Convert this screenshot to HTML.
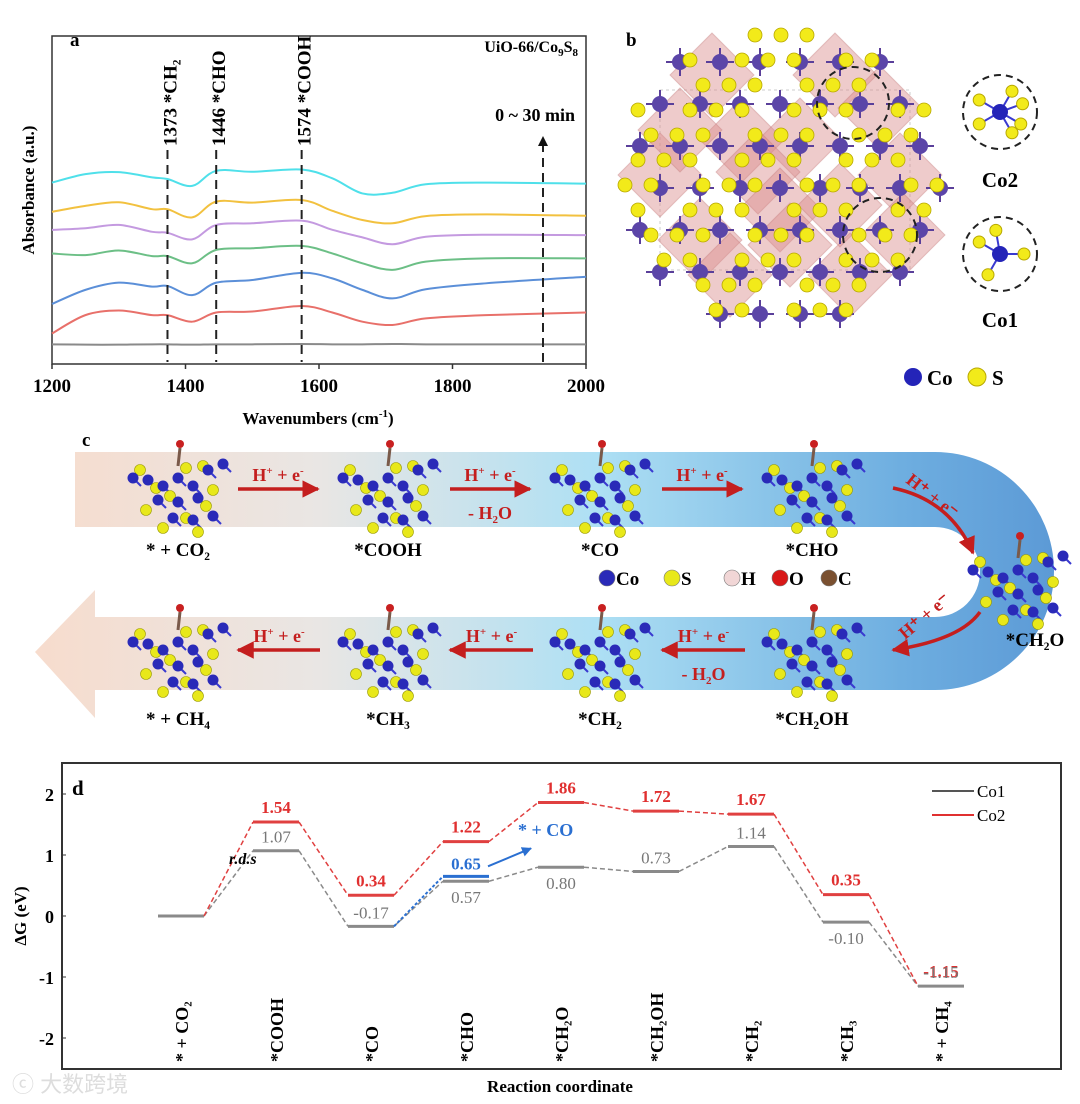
<!DOCTYPE html>
<html><head><meta charset="utf-8"><style>
html,body{margin:0;padding:0;background:#fff}
svg{display:block;font-family:"Liberation Serif",serif}
.b{font-weight:bold}
</style></head><body>
<svg id="fig" width="1080" height="1104" viewBox="0 0 1080 1104" xmlns="http://www.w3.org/2000/svg">
<defs>
<linearGradient id="band" x1="0" x2="1" y1="0" y2="0">
<stop offset="0" stop-color="#f7dccd"/><stop offset="0.28" stop-color="#e9e6e4"/><stop offset="0.55" stop-color="#aee0f4"/><stop offset="0.85" stop-color="#6eaee0"/><stop offset="1" stop-color="#5c9ad6"/></linearGradient>
<marker id="ar" viewBox="0 0 10 10" refX="9" refY="5" markerWidth="5" markerHeight="5" orient="auto"><path d="M0,0L10,5L0,10z" fill="#c41e1e"/></marker>
<marker id="ak" viewBox="0 0 10 10" refX="9" refY="5" markerWidth="5" markerHeight="5" orient="auto"><path d="M0,0L10,5L0,10z" fill="#111"/></marker>
<marker id="ab" viewBox="0 0 10 10" refX="9" refY="5" markerWidth="5" markerHeight="5" orient="auto"><path d="M0,0L10,5L0,10z" fill="#2a6fd1"/></marker>
</defs>
<g id="pa"></g>
<g id="pb"></g>
<g id="pc"></g>
<g id="pd"></g>
</svg>
<script>
// ---------- Panel a data ----------
const waveNumbers=[1200,1250,1300,1350,1373,1410,1446,1500,1574,1620,1665,1710,1760,1850,2000];
const spCyan=[55.3,57.9,58.5,56.9,56.4,54.3,58.9,58.6,59.3,56.6,52.0,52.2,54.8,55.3,55.0];
const spYellow=[46.4,48.2,49.3,47.2,47.2,44.7,49.5,49.2,50.0,46.7,43.9,42.9,45.1,45.6,45.2];
const spPurple=[40.9,41.4,42.4,40.3,40.0,38.0,42.4,42.9,43.7,40.9,38.6,36.5,38.8,39.4,39.3];
const spGreen=[33.7,33.2,34.6,32.9,32.9,30.7,34.8,35.3,36.0,33.7,30.7,28.7,31.2,32.2,32.2];
const spBlue=[18.3,22.6,24.8,23.6,23.8,21.0,24.8,25.6,27.8,26.1,22.6,20.0,22.8,24.6,26.6];
const spRed=[9.3,14.9,16.3,14.9,14.9,12.9,15.7,16.0,17.7,15.7,12.9,11.9,13.9,14.9,15.7];
const spGray=[6.0,5.9,5.9,6.0,6.0,5.9,6.0,6.0,6.1,6.0,6.0,6.1,6.0,6.0,6.0];
const xTicksA=[1200,1400,1600,1800,2000];
const peakPos=[1373,1446,1574];
const peakLbl=['1373  *CH\u2082','1446 *CHO','1574  *COOH'];
// ---------- Panel d data ----------
const steps=['* + CO\u2082','*COOH','*CO','*CHO','*CH\u2082O','*CH\u2082OH','*CH\u2082','*CH\u2083','* + CH\u2084'];
const co1G=[0,1.07,-0.17,0.57,0.80,0.73,1.14,-0.10,-1.15];
const co2G=[0,1.54,0.34,1.22,1.86,1.72,1.67,0.35,-1.15];
const co1LabelBelow=[0,0,0,1,1,0,0,1,0];
const coDesorb=0.65;
const yTicksD=[2,1,0,-1,-2];

const NS='http://www.w3.org/2000/svg';
function mk(p,tag,at,txt){const e=document.createElementNS(NS,tag);for(const k in at)e.setAttribute(k,at[k]);if(txt!==undefined)e.textContent=txt;p.appendChild(e);return e;}

// ===== Panel a =====
const pa=document.getElementById('pa');
const ax0=52,ax1=586,ay0=36,ay1=364;
const xA=v=>ax0+(v-1200)/800*(ax1-ax0);
const yA=v=>ay1-v*3.28;
let fr=mk(pa,'rect',{x:ax0,y:ay0,width:ax1-ax0,height:ay1-ay0,fill:'none',stroke:'#333','stroke-width':1.5});

xTicksA.forEach(t=>{const g=mk(pa,'g',{});

mk(g,'line',{x1:xA(t),x2:xA(t),y1:ay1,y2:ay1+5,stroke:'#333','stroke-width':1.5});
mk(g,'text',{x:xA(t),y:ay1+28,'text-anchor':'middle','font-size':19,class:'b'},t);});
function smooth(pts){let d='M'+pts[0][0]+','+pts[0][1];for(let i=0;i<pts.length-1;i++){const p0=pts[i-1]||pts[i],p1=pts[i],p2=pts[i+1],p3=pts[i+2]||p2;
d+=' C'+(p1[0]+(p2[0]-p0[0])/6)+','+(p1[1]+(p2[1]-p0[1])/6)+' '+(p2[0]-(p3[0]-p1[0])/6)+','+(p2[1]-(p3[1]-p1[1])/6)+' '+p2[0]+','+p2[1];}return d;}
[[spGray,'#8a8a8a','gray'],[spRed,'#e8706a','red'],[spBlue,'#5b8fd8','blue'],[spGreen,'#6cbf86','green'],[spPurple,'#c49ae0','purple'],[spYellow,'#f2c13f','yellow'],[spCyan,'#4fe0ea','cyan']].forEach(s=>{
const p=mk(pa,'path',{d:smooth(waveNumbers.map((w,i)=>[xA(w),yA(s[0][i])])),fill:'none',stroke:s[1],'stroke-width':2});
});
peakPos.forEach((w,i)=>{const g=mk(pa,'g',{});

mk(g,'line',{x1:xA(w),x2:xA(w),y1:150,y2:362,stroke:'#222','stroke-width':2,'stroke-dasharray':'9,6'});
mk(g,'text',{x:0,y:0,transform:'translate('+(xA(w)+9)+',146) rotate(-90)','font-size':19,class:'b'},peakLbl[i]);});
const ag=mk(pa,'g',{});
mk(ag,'line',{x1:543,x2:543,y1:362,y2:137,stroke:'#222','stroke-width':2,'stroke-dasharray':'9,6','marker-end':'url(#ak)'});
mk(ag,'text',{x:575,y:121,'text-anchor':'end','font-size':18,class:'b'},'0 ~ 30 min');
let t=mk(pa,'text',{x:70,y:46,'font-size':19,class:'b'},'a');
t=mk(pa,'text',{x:578,y:52,'text-anchor':'end','font-size':16,class:'b'});t.innerHTML='UiO-66/Co<tspan font-size="11" dy="4">9</tspan><tspan dy="-4">S</tspan><tspan font-size="11" dy="4">8</tspan>';

t=mk(pa,'text',{transform:'translate(34,190) rotate(-90)','text-anchor':'middle','font-size':17,class:'b'},'Absorbance (a.u.)');

t=mk(pa,'text',{x:318,y:424,'text-anchor':'middle','font-size':17,class:'b'});t.innerHTML='Wavenumbers (cm<tspan font-size="11" dy="-7">-1</tspan><tspan dy="7">)</tspan>';


// ===== Panel b =====
const pb=document.getElementById('pb');
t=mk(pb,'text',{x:626,y:46,'font-size':19,class:'b'},'b');
mk(pb,'rect',{x:660,y:90,width:250,height:180,fill:'none',stroke:'#ccc','stroke-dasharray':'3,3'});
const crys=mk(pb,'g',{});
const cen=[[712,75],[835,75],[660,175],[742,140],[800,140],[880,108],[758,172],[900,175],[700,240],[780,210],[840,205],[903,235],[730,275],[850,275],[680,130],[790,245]];
cen.forEach(c=>{mk(crys,'polygon',{points:(c[0])+','+(c[1]-42)+' '+(c[0]+42)+','+c[1]+' '+c[0]+','+(c[1]+42)+' '+(c[0]-42)+','+c[1],fill:'#d98c8c','fill-opacity':0.45,stroke:'#c47a7a','stroke-opacity':0.4});});
for(let r=0;r<7;r++)for(let c=0;c<8;c++){const x=640+c*40+(r%2)*20,y=62+r*42;if((x-780)*(x-780)/170/170+(y-180)*(y-180)/150/150>1)continue;
mk(crys,'line',{x1:x-14,y1:y,x2:x+14,y2:y,stroke:'#5a3f9a','stroke-width':2});mk(crys,'line',{x1:x,y1:y-14,x2:x,y2:y+14,stroke:'#5a3f9a','stroke-width':2});
mk(crys,'circle',{cx:x,cy:y,r:8,fill:'#5b45a8'});}
for(let r=0;r<12;r++)for(let c=0;c<13;c++){const x=625+c*26+(r%2)*13,y=35+r*25;const dd=(x-780)*(x-780)/165/165+(y-180)*(y-180)/148/148;if(dd>1||((r*7+c*3)%4==0))continue;
mk(crys,'circle',{cx:x,cy:y,r:7,fill:'#f2ea1a',stroke:'#b8a800','stroke-width':0.8});}
function site(cx,cy,nm,lbl,n){const g=mk(pb,'g',{});
mk(g,'circle',{cx:cx,cy:cy,r:37,fill:'none',stroke:'#222','stroke-width':2,'stroke-dasharray':'7,5'});
const ang=n==6?[-60,-150,-20,30,60,150]:[-100,-150,0,120];
ang.forEach(a=>{const x=cx+24*Math.cos(a*Math.PI/180),y=cy+24*Math.sin(a*Math.PI/180);mk(g,'line',{x1:cx,y1:cy,x2:x,y2:y,stroke:'#3a3ad0','stroke-width':2});mk(g,'circle',{cx:x,cy:y,r:6,fill:'#f2ea1a',stroke:'#b8a800'});});
mk(g,'circle',{cx:cx,cy:cy,r:8,fill:'#2424b8'});
mk(g,'text',{x:cx,y:cy+ (n==6?75:73),'text-anchor':'middle','font-size':21,class:'b'},lbl);}
site(1000,112,'co2-site','Co2',6);site(1000,254,'co1-site','Co1',4);
mk(pb,'circle',{cx:853,cy:103,r:36,fill:'none',stroke:'#222','stroke-width':2,'stroke-dasharray':'7,5'});
mk(pb,'circle',{cx:880,cy:235,r:37,fill:'none',stroke:'#222','stroke-width':2,'stroke-dasharray':'7,5'});
const lb=mk(pb,'g',{});
mk(lb,'circle',{cx:913,cy:377,r:9,fill:'#2424b8'});mk(lb,'text',{x:927,y:385,'font-size':21,class:'b'},'Co');
mk(lb,'circle',{cx:977,cy:377,r:9,fill:'#f2ea1a',stroke:'#b8a800'});mk(lb,'text',{x:992,y:385,'font-size':21,class:'b'},'S');

// ===== Panel c =====
const pc=document.getElementById('pc');
t=mk(pc,'text',{x:82,y:446,'font-size':19,class:'b'},'c');
let bd=mk(pc,'path',{d:'M75,452 L935,452 A119,119 0 0 1 935,690 L95,690 L95,718 L35,652 L95,590 L95,617 L935,617 A45,45 0 0 0 935,527 L75,527 Z',fill:'url(#band)'});

function cluster(cx,cy,nm){const g=mk(pc,'g',{});
const co=[[-45,-10],[-30,-8],[-15,-2],[0,-10],[15,-2],[30,-18],[45,-24],[-20,12],[0,14],[20,10],[-5,30],[15,32],[35,28]];
const s=[[-38,-18],[-22,0],[-8,8],[8,-20],[25,-22],[35,2],[-32,22],[8,30],[28,18],[-15,40],[20,44]];
co.forEach(p=>mk(g,'line',{x1:cx+p[0],y1:cy+p[1],x2:cx+p[0]+8,y2:cy+p[1]+8,stroke:'#3a3ad0','stroke-width':2}));
s.forEach(p=>mk(g,'circle',{cx:cx+p[0],cy:cy+p[1],r:5.5,fill:'#e8e81a',stroke:'#9a9a00','stroke-width':0.6}));
co.forEach(p=>mk(g,'circle',{cx:cx+p[0],cy:cy+p[1],r:5.5,fill:'#2a2ab8'}));
mk(g,'line',{x1:cx,y1:cy-22,x2:cx+2,y2:cy-40,stroke:'#7a5a4a','stroke-width':3});mk(g,'circle',{cx:cx+2,cy:cy-44,r:4,fill:'#c82020'});}
const topX=[178,388,600,812],botX=[178,388,600,812];
const topL=['* + CO\u2082','*COOH','*CO','*CHO'],botL=['* + CH\u2084','*CH\u2083','*CH\u2082','*CH\u2082OH'];
topX.forEach((x,i)=>{cluster(x,488,'adsorbate-top-'+i);t=mk(pc,'text',{x:x,y:556,'text-anchor':'middle','font-size':19,class:'b'},topL[i]);});
botX.forEach((x,i)=>{cluster(x,652,'adsorbate-bottom-'+i);t=mk(pc,'text',{x:x,y:725,'text-anchor':'middle','font-size':19,class:'b'},botL[i]);});
cluster(1018,580,'adsorbate-ch2o');t=mk(pc,'text',{x:1035,y:646,'text-anchor':'middle','font-size':19,class:'b'},'*CH\u2082O');
function harrow(x1,x2,y,h2o,nm){const g=mk(pc,'g',{});
mk(g,'line',{x1:x1,x2:x2,y1:y,y2:y,stroke:'#c41e1e','stroke-width':3.5,'marker-end':'url(#ar)'});
const m=(x1+x2)/2;const tx=mk(g,'text',{x:m,y:y-8,'text-anchor':'middle','font-size':18,fill:'#c41e1e',class:'b'});tx.innerHTML='H<tspan font-size="11" dy="-7">+</tspan><tspan dy="7"> + e</tspan><tspan font-size="11" dy="-7">-</tspan>';
if(h2o){const t2=mk(g,'text',{x:m,y:y+30,'text-anchor':'middle','font-size':18,fill:'#c41e1e',class:'b'});t2.innerHTML='- H<tspan font-size="11" dy="4">2</tspan><tspan dy="-4">O</tspan>';}}
harrow(238,318,489,false,'step-arrow-1');harrow(450,530,489,true,'step-arrow-2');harrow(662,742,489,false,'step-arrow-3');
harrow(745,662,650,true,'step-arrow-7');harrow(533,450,650,false,'step-arrow-8');harrow(320,238,650,false,'step-arrow-9');
mk(pc,'path',{d:'M893,488 Q950,500 973,553',fill:'none',stroke:'#c41e1e','stroke-width':3.5,'marker-end':'url(#ar)'});
mk(pc,'text',{transform:'translate(905,482) rotate(38)','font-size':18,fill:'#c41e1e',class:'b'},'H\u207A + e\u207B');
mk(pc,'path',{d:'M980,612 Q960,640 893,650',fill:'none',stroke:'#c41e1e','stroke-width':3.5,'marker-end':'url(#ar)'});
mk(pc,'text',{transform:'translate(905,640) rotate(-40)','font-size':18,fill:'#c41e1e',class:'b'},'H\u207A + e\u207B');
const lc=mk(pc,'g',{});
[['#2a2ab8','Co',607],['#e8e81a','S',672],['#f1d6d6','H',732],['#d81818','O',780],['#7a5030','C',829]].forEach(a=>{mk(lc,'circle',{cx:a[2],cy:578,r:8,fill:a[0],stroke:'#777','stroke-width':0.6});mk(lc,'text',{x:a[2]+9,y:585,'font-size':19,class:'b'},a[1]);});

// ===== Panel d =====
const pd=document.getElementById('pd');
const dx0=62,dx1=1061,dy0=763,dy1=1069;
const xD=i=>181+i*95;
const yD=v=>916-v*61;
fr=mk(pd,'rect',{x:dx0,y:dy0,width:dx1-dx0,height:dy1-dy0,fill:'none',stroke:'#333','stroke-width':2});

yTicksD.forEach(v=>{const g=mk(pd,'g',{});
mk(g,'line',{x1:dx0,x2:dx0+4,y1:yD(v),y2:yD(v),stroke:'#333'});
mk(g,'text',{x:dx0-8,y:yD(v)+7,'text-anchor':'end','font-size':18,class:'b'},v);});
const hw=23;
const g1=mk(pd,'g',{});
co1G.forEach((v,i)=>{mk(g1,'line',{x1:xD(i)-hw,x2:xD(i)+hw,y1:yD(v),y2:yD(v),stroke:'#8a8a8a','stroke-width':3});
if(i<co1G.length-1)mk(g1,'line',{x1:xD(i)+hw,x2:xD(i+1)-hw,y1:yD(v),y2:yD(co1G[i+1]),stroke:'#8a8a8a','stroke-width':1.5,'stroke-dasharray':'5,3'});});
const g2=mk(pd,'g',{});
co2G.forEach((v,i)=>{if(i>0&&i<co2G.length-1)mk(g2,'line',{x1:xD(i)-hw,x2:xD(i)+hw,y1:yD(v),y2:yD(v),stroke:'#e04040','stroke-width':3});
if(i<co2G.length-1)mk(g2,'line',{x1:xD(i)+hw,x2:xD(i+1)-hw,y1:yD(v),y2:yD(co2G[i+1]),stroke:'#e04040','stroke-width':1.5,'stroke-dasharray':'5,3'});});
co2G.forEach((v,i)=>{if(i==0)return;const tt=mk(pd,'text',{x:xD(i),y:yD(v)-9,'text-anchor':'middle','font-size':17,fill:'#e03030',class:'b'},v.toFixed(2));
});
co1G.forEach((v,i)=>{if(i==0)return;const tt=mk(pd,'text',{x:xD(i),y:co1LabelBelow[i]?yD(v)+22:yD(v)-8,'text-anchor':'middle','font-size':17,fill:'#777'},v.toFixed(2));
});
const bg=mk(pd,'g',{});
mk(bg,'line',{x1:xD(3)-hw,x2:xD(3)+hw,y1:yD(coDesorb),y2:yD(coDesorb),stroke:'#2a6fd1','stroke-width':3});
mk(bg,'line',{x1:xD(2)+hw,x2:xD(3)-hw,y1:yD(co1G[2]),y2:yD(coDesorb),stroke:'#2a6fd1','stroke-width':2,'stroke-dasharray':'3,2'});
mk(bg,'text',{x:xD(3),y:yD(coDesorb)-7,'text-anchor':'middle','font-size':17,fill:'#2a6fd1',class:'b'},coDesorb.toFixed(2));
mk(bg,'line',{x1:xD(3)+22,y1:yD(coDesorb)-10,x2:xD(3)+65,y2:yD(coDesorb)-28,stroke:'#2a6fd1','stroke-width':2,'marker-end':'url(#ab)'});
mk(bg,'text',{x:518,y:836,'font-size':18,fill:'#2a6fd1',class:'b'},'* + CO');
mk(pd,'text',{x:229,y:864,'font-size':16,'font-style':'italic',class:'b'},'r.d.s');
steps.forEach((s,i)=>{const tt=mk(pd,'text',{transform:'translate('+(xD(i)+7)+',1062) rotate(-90)','font-size':18,class:'b'},s);
});
t=mk(pd,'text',{x:72,y:795,'font-size':21,class:'b'},'d');
const ld=mk(pd,'g',{});
mk(ld,'line',{x1:932,x2:974,y1:791,y2:791,stroke:'#555','stroke-width':2});mk(ld,'text',{x:977,y:797,'font-size':17},'Co1');
mk(ld,'line',{x1:932,x2:974,y1:815,y2:815,stroke:'#e03030','stroke-width':2});mk(ld,'text',{x:977,y:821,'font-size':17},'Co2');
t=mk(pd,'text',{transform:'translate(26,916) rotate(-90)','text-anchor':'middle','font-size':17,class:'b'},'\u0394G (eV)');
t=mk(pd,'text',{x:560,y:1092,'text-anchor':'middle','font-size':17,class:'b'},'Reaction coordinate');
t=mk(pd,'text',{x:12,y:1092,'font-size':22,fill:'#ddd','font-family':'"Liberation Sans","Noto Sans CJK SC",sans-serif'},'\u24D2 大数跨境');
</script>
</body></html>
